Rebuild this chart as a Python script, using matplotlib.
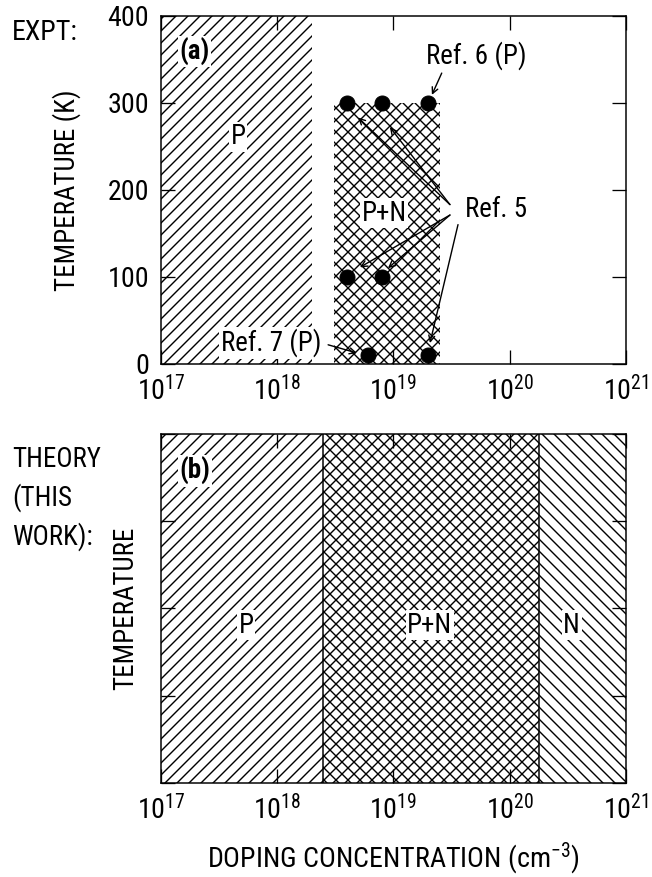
import numpy as np
import matplotlib
matplotlib.use('Agg')
import matplotlib.pyplot as plt
from matplotlib import font_manager as fm
from matplotlib.ticker import NullLocator

# pick a narrow sans face if one is installed
names = {f.name for f in fm.fontManager.ttflist}
narrow = 'DejaVu Sans'
for cand in ['Liberation Sans Narrow', 'Roboto Condensed', 'Noto Sans Condensed',
             'Open Sans Condensed', 'DejaVu Sans Condensed', 'Arial Narrow']:
    if cand in names:
        narrow = cand
        break
plt.rcParams['font.family'] = [narrow, 'DejaVu Sans']
plt.rcParams['font.stretch'] = 'condensed'
plt.rcParams['mathtext.fontset'] = 'custom'
plt.rcParams['mathtext.rm'] = narrow + ':stretch=condensed'
plt.rcParams['mathtext.it'] = narrow + ':italic:stretch=condensed'
plt.rcParams['hatch.linewidth'] = 1.4
plt.rcParams['hatch.color'] = 'black'
FS = 27 if narrow != 'DejaVu Sans' else 23
TFS = FS + 1

# data
xticks = [1e17, 1e18, 1e19, 1e20, 1e21]
yticks = [0, 100, 200, 300, 400]

# (a) experiment
expt_p = (1e17, 2.0e18)
expt_pn = (3.1e18, 2.5e19)
expt_pn_tmax = 300
pts_conc = [4e18, 8e18, 2e19, 4e18, 8e18, 6e18, 2e19]
pts_temp = [300, 300, 300, 100, 100, 10, 10]

# (b) theory
theory_edges = [1e17, 2.5e18, 1.8e20, 1e21]
theory_names = ['P', 'P+N', 'N']
theory_hatch = ['//', 'xx', '\\\\']
theory_label_x = [5.4e17, 2.05e19, 3.4e20]

# arrows: (start, end) in data coords
ref5_arrows = [((3.06e19, 183), (4.95e18, 283)),
               ((3.06e19, 183), (9.3e18, 272)),
               ((3.06e19, 171), (5.15e18, 111)),
               ((3.06e19, 171), (8.97e18, 110)),
               ((3.59e19, 160), (2.06e19, 24))]
ref6_arrow = ((2.6e19, 334), (2.14e19, 309))
ref7_arrow = ((2.74e18, 22), (4.85e18, 12.6))

DPI = 72
fig = plt.figure(figsize=(652 / DPI, 877 / DPI), dpi=DPI)
ax1 = fig.add_axes([0.2469, 0.5850, 0.7132, 0.3972])
ax2 = fig.add_axes([0.2469, 0.1072, 0.7132, 0.3980])

white = dict(facecolor='white', edgecolor='none', pad=1.5)
arr = dict(arrowstyle='->', lw=1.4, color='k', shrinkA=0, shrinkB=0,
           mutation_scale=15)

for ax in (ax1, ax2):
    ax.set_xscale('log')
    ax.set_xlim(xticks[0], xticks[-1])
    ax.set_ylim(yticks[0], yticks[-1])
    ax.set_xticks(xticks)
    ax.set_yticks(yticks)
    ax.xaxis.set_minor_locator(NullLocator())
    ax.tick_params(direction='in', length=14, width=1.3, top=True,
                   right=True, labelsize=TFS, pad=12)
    ax.tick_params(axis='y', pad=12)
    for s in ax.spines.values():
        s.set_linewidth(1.5)

# ---- (a)
ax1.fill_between(expt_p, 0, 400, facecolor='none', edgecolor='k',
                 lw=0, hatch='//')
ax1.fill_between(expt_pn, 0, expt_pn_tmax, facecolor='none',
                 edgecolor='k', lw=0, hatch='xx')
ax1.plot(pts_conc, pts_temp, 'o', color='k', ms=15, zorder=5)

ax1.text(4.6e17, 261, 'P', fontsize=FS, ha='center', va='center', bbox=white)
ax1.text(8.3e18, 173, 'P+N', fontsize=FS, ha='center', va='center', bbox=white)
ax1.text(0.04, 0.897, '(a)', transform=ax1.transAxes, fontsize=FS,
         fontweight='bold', ha='left', va='center', bbox=white)
ax1.text(4.1e19, 177, 'Ref. 5', fontsize=FS, ha='left', va='center')
ax1.text(1.9e19, 354, 'Ref. 6 (P)', fontsize=FS, ha='left', va='center')
ax1.text(2.4e18, 24, 'Ref. 7 (P)', fontsize=FS, ha='right', va='center',
         bbox=white)
for a, b in ref5_arrows:
    ax1.annotate('', xy=b, xytext=a, arrowprops=arr)
ax1.annotate('', xy=ref6_arrow[1], xytext=ref6_arrow[0], arrowprops=arr)
ax1.annotate('', xy=ref7_arrow[1], xytext=ref7_arrow[0], arrowprops=arr)

ax1.set_ylabel('TEMPERATURE (K)', fontsize=FS)
ax1.yaxis.set_label_coords(-0.172, 0.5)

# ---- (b)
for i in range(3):
    ax2.fill_between(theory_edges[i:i + 2], 0, 400, facecolor='none',
                     edgecolor='k', lw=0, hatch=theory_hatch[i])
    ax2.text(theory_label_x[i], 181, theory_names[i], fontsize=FS,
             ha='center', va='center', bbox=white)
for e in theory_edges[1:-1]:
    ax2.axvline(e, color='k', lw=1.5)
ax2.text(0.04, 0.894, '(b)', transform=ax2.transAxes, fontsize=FS,
         fontweight='bold', ha='left', va='center', bbox=white)
ax2.tick_params(axis='y', labelleft=False)
ax2.set_ylabel('TEMPERATURE', fontsize=FS)
ax2.yaxis.set_label_coords(-0.047, 0.5)
ax2.set_xlabel('DOPING CONCENTRATION (cm$^{-3}$)', fontsize=TFS)
ax2.xaxis.set_label_coords(0.5, -0.165)

fig.text(12 / 652, 1 - 32 / 877, 'EXPT:', fontsize=TFS, ha='left', va='center')
fig.text(12 / 652, 1 - 446 / 877, 'THEORY\n(THIS\nWORK):', fontsize=FS,
         ha='left', va='top', linespacing=1.45)

fig.savefig('out.png', dpi=DPI)
